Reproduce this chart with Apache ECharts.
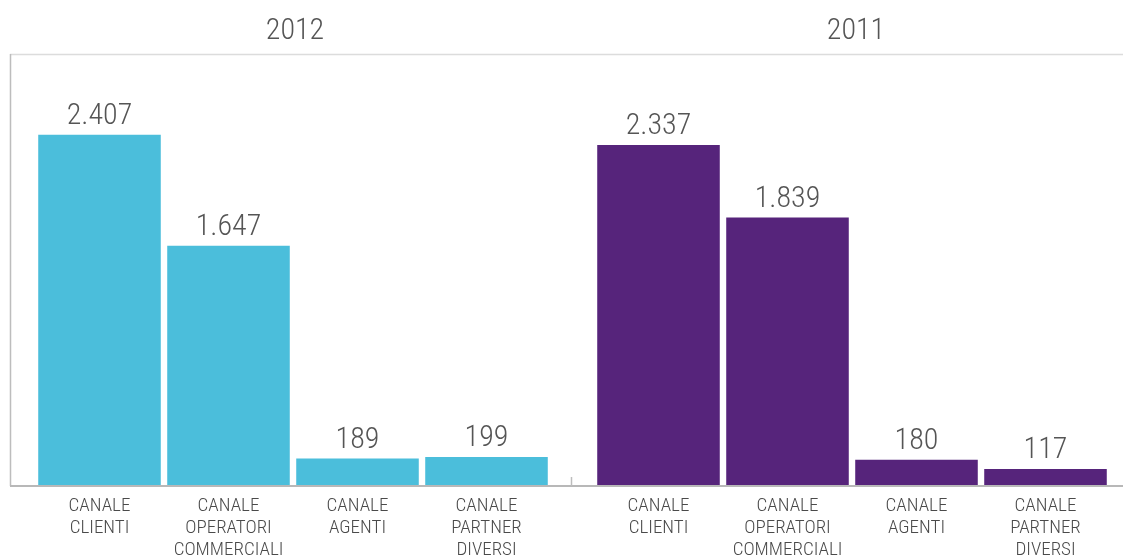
<!DOCTYPE html>
<html>
<head>
<meta charset="utf-8">
<script src="https://cdn.jsdelivr.net/npm/echarts@6/dist/echarts.min.js"></script>
<style>
  html, body { margin: 0; padding: 0; background: #ffffff; }
  #chart { width: 1123px; height: 558px; }
</style>
</head>
<body>
<div id="chart"></div>
<script>
// Sales channels (same for both years)
const categories = ['CANALE\nCLIENTI', 'CANALE\nOPERATORI\nCOMMERCIALI', 'CANALE\nAGENTI', 'CANALE\nPARTNER\nDIVERSI'];
const years = ['2012', '2011'];
const values2012 = [2407, 1647, 189, 199];
const values2011 = [2337, 1839, 180, 117];
const yMax = 2960;

const FONT = '"Roboto Condensed", "Open Sans", sans-serif';
const TEXT = '#555555';

// Italian thousands separator: 2407 -> "2.407"
const fmt = v => String(v).replace(/\B(?=(\d{3})+(?!\d))/g, '.');

const gridTop = 54, gridH = 432, gridW = 516;
const grids = [
  { left: 35, top: gridTop, width: gridW, height: gridH, containLabel: false, outerBoundsMode: 'none' },
  { left: 594, top: gridTop, width: gridW, height: gridH, containLabel: false, outerBoundsMode: 'none' }
];

function xAxisFor(i) {
  return {
    type: 'category', gridIndex: i, data: categories,
    axisLine: { show: false }, axisTick: { show: false },
    axisLabel: {
      interval: 0, margin: 9, color: '#4a4a4a',
      fontFamily: FONT, fontWeight: 300, fontSize: 19, lineHeight: 22
    }
  };
}
function yAxisFor(i) {
  return {
    type: 'value', gridIndex: i, min: 0, max: yMax,
    show: false, splitLine: { show: false }
  };
}
function barSeries(i, data, color) {
  return {
    type: 'bar', xAxisIndex: i, yAxisIndex: i, data: data,
    barCategoryGap: '5%',
    itemStyle: { color: color },
    label: {
      show: true, position: 'top', distance: 3,
      color: TEXT, fontFamily: FONT, fontWeight: 300, fontSize: 30,
      formatter: p => fmt(p.value)
    },
    silent: true
  };
}

const chart = echarts.init(document.getElementById('chart'), null, { renderer: 'canvas' });
chart.setOption({
  animation: false,
  backgroundColor: '#ffffff',
  title: [
    { text: years[0], left: 290, top: 11, textAlign: 'center',
      textStyle: { color: TEXT, fontFamily: FONT, fontSize: 30, fontWeight: 300 } },
    { text: years[1], left: 851, top: 11, textAlign: 'center',
      textStyle: { color: TEXT, fontFamily: FONT, fontSize: 30, fontWeight: 300 } }
  ],
  grid: grids,
  xAxis: [xAxisFor(0), xAxisFor(1)],
  yAxis: [yAxisFor(0), yAxisFor(1)],
  series: [
    barSeries(0, values2012, '#4bbedb'),
    barSeries(1, values2011, '#56247b')
  ],
  // plot frame: top rule, left rule, baseline and the divider tick between years
  graphic: [
    { type: 'line', z: 0, shape: { x1: 10, y1: 54.5, x2: 1123, y2: 54.5 },
      style: { stroke: '#dcdcdc', lineWidth: 1.5 } },
    { type: 'line', z: 0, shape: { x1: 10.5, y1: 54, x2: 10.5, y2: 486 },
      style: { stroke: '#bdbdbd', lineWidth: 1.5 } },
    { type: 'line', z: 10, shape: { x1: 10, y1: 486, x2: 1123, y2: 486 },
      style: { stroke: '#b8b8b8', lineWidth: 2 } },
    { type: 'line', z: 10, shape: { x1: 571.5, y1: 477, x2: 571.5, y2: 486 },
      style: { stroke: '#bdbdbd', lineWidth: 1.5 } }
  ]
});
</script>
</body>
</html>
